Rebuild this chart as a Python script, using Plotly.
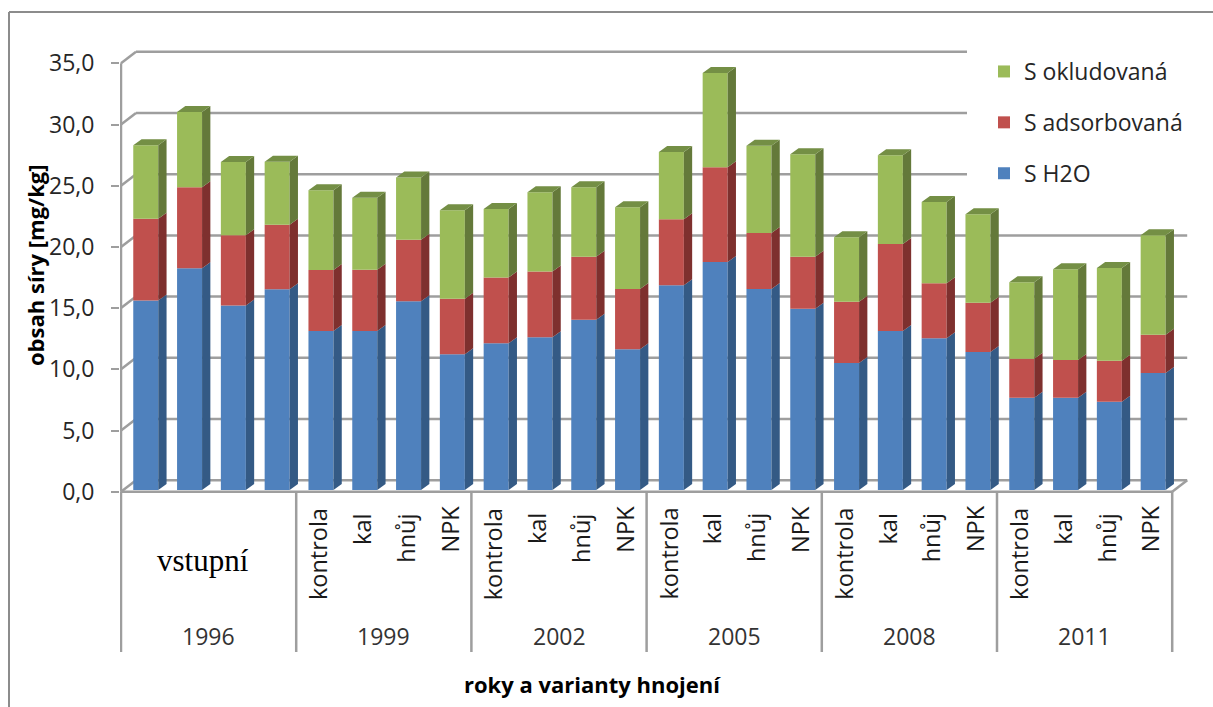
import plotly.graph_objects as go

# Sulphur fractions in soil, mg/kg
years = ["1996", "1999", "2002", "2005", "2008", "2011"]
variants = ["kontrola", "kal", "hnůj", "NPK"]
entry_label = "vstupní"
s_h2o = [15.49, 18.11, 15.08, 16.39, 12.99, 12.99, 15.41, 11.08, 11.98, 12.47, 13.91, 11.49,
         16.72, 18.63, 16.42, 14.81, 10.37, 12.99, 12.39, 11.27, 7.54, 7.54, 7.21, 9.56]
s_adsorbovana = [6.68, 6.62, 5.73, 5.28, 4.98, 5.01, 5.04, 4.55, 5.39, 5.39, 5.15, 4.93,
                 5.39, 7.73, 4.58, 4.25, 5.01, 7.11, 4.50, 4.03, 3.19, 3.08, 3.35, 3.13]
s_okludovana = [5.99, 6.15, 5.99, 5.15, 6.51, 5.88, 5.07, 7.22, 5.58, 6.46, 5.67, 6.67,
                5.50, 7.71, 7.13, 8.36, 5.26, 7.24, 6.64, 7.22, 6.24, 7.41, 7.58, 8.12]
tick_values = [0, 5, 10, 15, 20, 25, 30, 35]
tick_labels = ["0,0", "5,0", "10,0", "15,0", "20,0", "25,0", "30,0", "35,0"]

# Pixel frame of the plot and the pseudo-3D depth, expressed in axis units
W, H = 1213, 707
PX_PER_CAT, PX_PER_VAL = 43.8, 12.24
X0_PX, Y0_PX = 121.0, 491.7
LEFT, RIGHT, TOP, BOTTOM = 120, 1192, 50, 654
BAR_W, BAR_OFFSET = 25 / PX_PER_CAT, -0.22
BAR_LIFT = 0.14
DEPTH_X, DEPTH_Y = 8.3 / PX_PER_CAT, 6.0 / PX_PER_VAL
WALL_X, WALL_Y = 15 / PX_PER_CAT, 11.5 / PX_PER_VAL
GRID_COLOR = "#9E9E9E"
FONT = "Open Sans"


def cat_x(px):
    return (px - X0_PX) / PX_PER_CAT - 0.5


def val_y(py):
    return (Y0_PX - py) / PX_PER_VAL


def paper_x(px):
    return (px - LEFT) / (RIGHT - LEFT)


def paper_y(py):
    return (BOTTOM - py) / (BOTTOM - TOP)


positions = list(range(len(s_h2o)))
series = [
    ("S H2O", s_h2o, "#4F81BD", "#345A85", 3),
    ("S adsorbovaná", s_adsorbovana, "#C0504D", "#7E302E", 2),
    ("S okludovaná", s_okludovana, "#9BBB59", "#64793A", 1),
]

fig = go.Figure()
bases = [BAR_LIFT] * len(positions)
for name, values, front, side, rank in series:
    # front faces
    fig.add_trace(go.Bar(
        x=positions, y=values, base=bases, name=name, width=BAR_W, offset=BAR_OFFSET,
        marker=dict(color=front, line=dict(width=0)), legendgroup=name, legendrank=rank,
        hoverinfo="skip",
    ))
    # right-hand faces, sheared back by the depth offset
    xs, ys = [], []
    for p, b, v in zip(positions, bases, values):
        xr = p + BAR_OFFSET + BAR_W
        xs += [xr, xr + DEPTH_X, xr + DEPTH_X, xr, xr, None]
        ys += [b, b + DEPTH_Y, b + v + DEPTH_Y, b + v, b, None]
    fig.add_trace(go.Scatter(
        x=xs, y=ys, mode="lines", line=dict(width=0), fill="toself", fillcolor=side,
        showlegend=False, hoverinfo="skip",
    ))
    bases = [b + v for b, v in zip(bases, values)]

# top caps of the stacks
xs, ys = [], []
for p, t in zip(positions, bases):
    xl = p + BAR_OFFSET
    xs += [xl, xl + BAR_W, xl + BAR_W + DEPTH_X, xl + DEPTH_X, xl, None]
    ys += [t, t, t + DEPTH_Y, t + DEPTH_Y, t, None]
fig.add_trace(go.Scatter(
    x=xs, y=ys, mode="lines", line=dict(width=0), fill="toself", fillcolor="#748F45",
    showlegend=False, hoverinfo="skip",
))

# Wall gridlines, floor, axis lines and group dividers sit under the bars
shapes = []


def rule(x0, y0, x1, y1, width=2.5, color=GRID_COLOR):
    shapes.append(dict(type="line", xref="x", yref="y", x0=x0, y0=y0, x1=x1, y1=y1,
                       layer="below", line=dict(color=color, width=width)))


x_axis = cat_x(X0_PX)
x_right = len(positions) - 0.5
for v in tick_values:
    rule(x_axis, v, x_axis + WALL_X, v + WALL_Y)
    end = cat_x(967) if v > 20 else x_right + WALL_X
    rule(x_axis + WALL_X, v + WALL_Y, end, v + WALL_Y)
rule(x_axis, 0, x_axis, tick_values[-1])
rule(x_axis, 0, x_right, 0)
rule(x_right, 0, x_right + WALL_X, WALL_Y)
for k in range(len(years) + 1):
    xd = k * len(variants) - 0.5
    rule(xd, 0, xd, val_y(652))

# Outer chart frame (left and top edges only)
for x0, y0, x1, y1 in [(9, 12, 9, H), (9, 12, W, 12)]:
    shapes.append(dict(type="line", xref="paper", yref="paper",
                       x0=paper_x(x0), x1=paper_x(x1), y0=paper_y(y0), y1=paper_y(y1),
                       layer="below", line=dict(color="#8C8C8C", width=2)))

# Category labels
annotations = []
variant_centre = {"kontrola": 554, "kal": 529, "hnůj": 538, "NPK": 529}
for i, p in enumerate(positions):
    if i < len(variants):
        continue
    v = variants[i % len(variants)]
    annotations.append(dict(x=p, y=val_y(variant_centre[v]), xref="x", yref="y",
                            text=v, textangle=-90, showarrow=False,
                            font=dict(family=FONT, size=23.5, color="#1a1a1a")))
for k, year in enumerate(years):
    annotations.append(dict(x=(k + 0.5) * len(variants) - 0.5, y=val_y(636), xref="x", yref="y",
                            text=year, showarrow=False,
                            font=dict(family=FONT, size=23, color="#333333")))
annotations.append(dict(x=cat_x(203), y=val_y(560), xref="x", yref="y", text=entry_label,
                        showarrow=False,
                        font=dict(family="Liberation Serif", size=31, color="#000000")))
annotations.append(dict(x=paper_x(35), y=paper_y(265), xref="paper", yref="paper",
                        xanchor="center", yanchor="middle",
                        text="<b>obsah síry [mg/kg]</b>", textangle=-90, showarrow=False,
                        font=dict(family=FONT, size=22, color="#000000")))
annotations.append(dict(x=paper_x(592), y=paper_y(684), xref="paper", yref="paper",
                        xanchor="center", yanchor="middle",
                        text="<b>roky a varianty hnojení</b>", showarrow=False,
                        font=dict(family=FONT, size=22, color="#000000")))

fig.update_layout(
    width=W, height=H, margin=dict(l=LEFT, r=W - RIGHT, t=TOP, b=H - BOTTOM, autoexpand=False),
    paper_bgcolor="white", plot_bgcolor="white",
    barmode="overlay", shapes=shapes, annotations=annotations,
    font=dict(family=FONT),
    legend=dict(
        x=paper_x(984), xanchor="left",
        y=paper_y(50), yanchor="top",
        traceorder="grouped", tracegroupgap=18,
        font=dict(family=FONT, size=23, color="#262626"),
        bgcolor="rgba(0,0,0,0)",
    ),
    xaxis=dict(range=[cat_x(LEFT), cat_x(RIGHT)], showgrid=False, zeroline=False,
               showticklabels=False, ticks="", showline=False),
    yaxis=dict(range=[val_y(BOTTOM), val_y(TOP)], tickmode="array",
               tickvals=tick_values, ticktext=tick_labels, ticks="outside", ticklen=8,
               tickwidth=2, tickcolor=GRID_COLOR, ticklabelstandoff=12,
               showgrid=False, zeroline=False, showline=False,
               tickfont=dict(family=FONT, size=23, color="#262626")),
)

fig.write_html("out.html")
